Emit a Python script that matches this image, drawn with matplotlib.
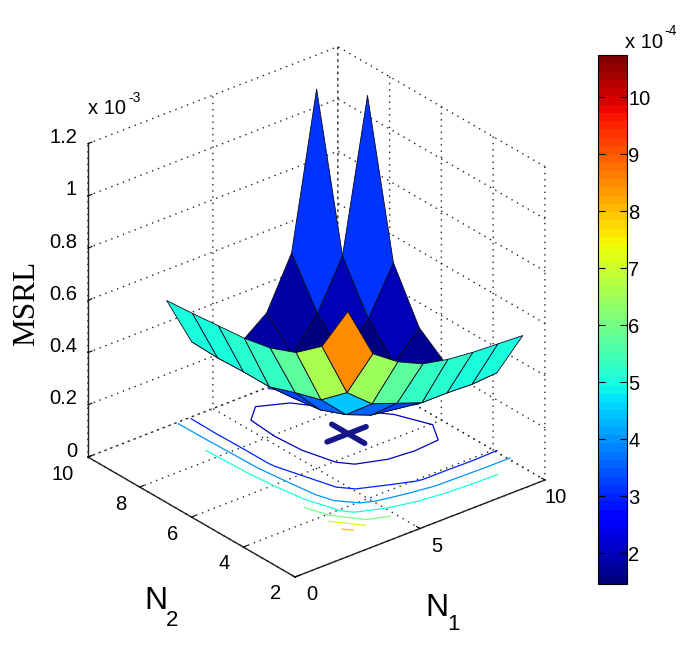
import matplotlib
matplotlib.use('Agg')
import matplotlib.pyplot as plt
import numpy as np
from matplotlib.cm import ScalarMappable
from matplotlib.colors import Normalize
from mpl_toolkits.mplot3d import proj3d

plt.rcParams['font.family'] = ['Liberation Sans', 'DejaVu Sans']

# grid positions (they sit a little off the integers)
n1 = [3.1, 4.1, 5.1, 6.1, 7.1, 8.1, 9.1, 10.1]
n2 = [2.95, 3.95, 4.95, 5.95, 6.95, 7.95, 8.95, 9.95]
# MSRL in units of 1e-4, rows are N1, columns are N2
msrl = np.array([
    [8.47, 6.56, 5.75, 5.35, 5.15, 5.05, 4.95, 4.87],
    [6.48, 4.42, 3.57, 3.27, 2.92, 2.92, 2.88, 2.92],
    [5.80, 3.62, 2.63, 2.24, 2.10, 2.05, 2.05, 2.30],
    [5.35, 3.27, 2.24, 1.78, 1.62, 1.62, 1.75, 2.18],
    [5.15, 2.92, 2.10, 1.62, 1.46, 1.52, 1.88, 2.91],
    [5.05, 2.92, 2.05, 1.62, 1.55, 1.95, 3.10, 4.84],
    [5.00, 2.88, 2.05, 1.72, 1.95, 3.10, 4.93, 10.74],
    [4.95, 2.95, 2.30, 2.18, 2.95, 4.87, 10.70, 2.00],
])
contour_levels = [1.95, 3, 4, 5, 6, 7, 8]
cross_n1 = [[6.36, 7.92], [7.2, 7.2]]
cross_n2 = [[6.9, 6.9], [6.26, 7.53]]

n1_ticks = [0, 5, 10]
n2_ticks = [2, 4, 6, 8, 10]
z_ticks = [0, 2, 4, 6, 8, 10, 12]
z_labels = ['0', '0.2', '0.4', '0.6', '0.8', '1', '1.2']
cbar_ticks = [2, 3, 4, 5, 6, 7, 8, 9, 10]
clim = (1.46, 10.74)

W, H = 685, 649
fig = plt.figure(figsize=(W/100, H/100), dpi=100, facecolor='white')
ax = fig.add_axes([-0.1, -0.1, 1.2, 1.2], projection='3d', proj_type='ortho',
                  computed_zorder=False)
ax.patch.set_alpha(0)
ax.view_init(elev=28.3, azim=-129.3)
box = (323, 327, 356)
ax.set_box_aspect(box)
ax.set_xlim(0, 10, view_margin=0)
ax.set_ylim(2, 10, view_margin=0)
ax.set_zlim(0, 12, view_margin=0)

jet = plt.get_cmap('jet', 64)
norm = Normalize(*clim)
X, Y = np.meshgrid(n1, n2, indexing='ij')

# contours on the floor, under the surface
ax.contour(X, Y, msrl, levels=contour_levels, zdir='z', offset=0,
           cmap=jet, norm=norm, linewidths=0.9, zorder=1)
for cx, cy in zip(cross_n1, cross_n2):
    ax.plot(cx, cy, [0, 0], color='#14148c', lw=4, solid_capstyle='round', zorder=2)

# flat shading, each face takes the colour of its lowest corner like surfc
face_rgba = jet(norm(msrl[:-1, :-1]))
face_rgba[-1, -1] = (0, 0, 0, 0)  # the back corner face is not there in the picture
surf = ax.plot_surface(X, Y, msrl, rstride=1, cstride=1, facecolors=face_rgba,
                       shade=False, linewidth=0.6, zorder=3)
edge_rgba = np.tile(matplotlib.colors.to_rgba('#0a0a20'), (face_rgba[..., 0].size, 1))
edge_rgba[-1, 3] = 0
surf.set_edgecolor(edge_rgba)

# axes styling
ax.set_xticks(n1_ticks)
ax.set_yticks(n2_ticks)
ax.set_zticks(z_ticks)
ax.set_zticklabels(z_labels)
ax.tick_params(labelsize=14.5, colors='black')
ax.tick_params(axis='x', pad=7.5)
ax.tick_params(axis='y', pad=8)
ax.tick_params(axis='z', pad=-1)
for axis in (ax.xaxis, ax.yaxis, ax.zaxis):
    axis.pane.set_visible(False)
    axis.line.set_color('#222222')
    axis.line.set_linewidth(1.0)
    axis._axinfo['grid'].update(color='#222222', linewidth=1.0, linestyle=(0, (1, 3.5)))
    axis._axinfo['tick']['inward_factor'] = 0.0
    axis._axinfo['tick']['outward_factor'] = 0.2
for lab in ax.get_zticklabels():
    lab.set_ha('right')
    lab.set_va('baseline')
for lab in ax.get_yticklabels():
    lab.set_va('baseline')
    lab.set_ha('right')
for lab in ax.get_xticklabels()[:2]:
    lab.set_va('baseline')
    lab.set_ha('left')
ax.get_xticklabels()[2].set_va('baseline')


def to_px(x, y, z):
    xp, yp, _ = proj3d.proj_transform(x, y, z, ax.get_proj())
    return ax.transData.transform((xp, yp))


# fit the box to the corners seen in the picture
fig.canvas.draw()
width = to_px(10, 2, 0)[0] - to_px(0, 10, 0)[0]
ax.set_box_aspect(box, zoom=457 / width)
fig.canvas.draw()
front = to_px(0, 2, 0)
pos = ax.get_position(original=True)
ax.set_position([pos.x0 + (295 - front[0]) / W, pos.y0 + (H - 577 - front[1]) / H,
                 pos.width, pos.height])

# colorbar
cax = fig.add_axes([598/W, 1 - 584/H, 29/W, 529/H])
cb = fig.colorbar(ScalarMappable(norm=norm, cmap=jet), cax=cax, ticks=cbar_ticks)
cax.tick_params(axis='y', direction='in', length=5, width=0.8, labelsize=14.5, pad=1,
                left=True, right=True)
cb.outline.set_linewidth(0.8)

# text labels, placed in picture pixels
def px_text(x, y, s, **kw):
    fig.text(x / W, 1 - y / H, s, ha=kw.pop('ha', 'left'), va=kw.pop('va', 'center'), **kw)


px_text(88, 108, 'x 10', fontsize=14.5)
px_text(128, 98, '-3', fontsize=10)
px_text(625, 42, 'x 10', fontsize=14.5)
px_text(664, 31, '-4', fontsize=10)
px_text(27, 303, 'MSRL', fontsize=22.5, rotation=90, ha='center', family='Liberation Serif')
px_text(144, 601, 'N', fontsize=23)
px_text(166, 620, '2', fontsize=16)
px_text(425, 608, 'N', fontsize=23)
px_text(447, 625, '1', fontsize=16)

fig.savefig('out.png', dpi=100, facecolor='white')
